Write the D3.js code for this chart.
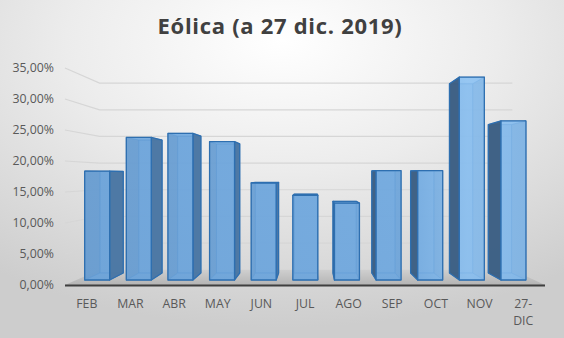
<!DOCTYPE html>
<html>
<head>
<meta charset="utf-8">
<script src="https://cdn.jsdelivr.net/npm/d3@7"></script>
<style>
  html, body { margin: 0; padding: 0; background: #fff; }
  svg { display: block; }
</style>
</head>
<body>
<svg id="chart" width="564" height="338"></svg>
<script>
// Monthly wind share, 2019
const categories = ["FEB", "MAR", "ABR", "MAY", "JUN", "JUL", "AGO", "SEP", "OCT", "NOV", "27-DIC"];
const values = [0.184, 0.241, 0.248, 0.234, 0.164, 0.143, 0.130, 0.185, 0.185, 0.343, 0.269];
const tickValues = [0, 0.05, 0.10, 0.15, 0.20, 0.25, 0.30, 0.35];
const title = "Eólica (a 27 dic. 2019)";

const W = 564, H = 338;
const FONT = "'Open Sans', Lato, sans-serif";
const svg = d3.select("#chart");
const defs = svg.append("defs");

const esLocale = d3.formatLocale({ decimal: ",", thousands: ".", grouping: [3], currency: ["", " €"] });
const pct = esLocale.format(".2%");

// Chart area background
const bg = defs.append("radialGradient").attr("id", "bg")
  .attr("cx", "50%").attr("cy", "12%").attr("r", "85%")
  .attr("gradientUnits", "objectBoundingBox");
bg.append("stop").attr("offset", "0%").attr("stop-color", "#ffffff");
bg.append("stop").attr("offset", "45%").attr("stop-color", "#ececec");
bg.append("stop").attr("offset", "100%").attr("stop-color", "#cdcdcd");
svg.append("rect").attr("width", W).attr("height", H).attr("fill", "url(#bg)");

// Front-plane scales (x along the floor front edge, y up the front-left edge)
const x = d3.scaleBand().domain(categories).range([65, 545]).paddingInner(0.4).paddingOuter(0.2);
const y = d3.scaleLinear().domain([0, 0.35]).range([285, 68]);

// Perspective: depth factor s shrinks coordinates toward the vanishing point
const VX = 312, VY = 176;
const SF = 1, SB = 0.86;           // floor front / back
const BF = 0.954, BB = 0.89;       // bar front / back faces
const P = (xw, yw, s) => [VX + (xw - VX) * s, VY + (yw - VY) * s];
const line = d3.line();

// Floor
const floorGrad = defs.append("linearGradient").attr("id", "floor")
  .attr("x1", 0).attr("y1", 0).attr("x2", 0).attr("y2", 1);
floorGrad.append("stop").attr("offset", "0%").attr("stop-color", "#cfcfcf");
floorGrad.append("stop").attr("offset", "100%").attr("stop-color", "#b4b4b4");
const [x0, x1] = x.range();
svg.append("path")
  .attr("d", line([P(x0, y(0), SF), P(x1, y(0), SF), P(x1, y(0), SB), P(x0, y(0), SB)]) + "Z")
  .attr("fill", "url(#floor)");
svg.append("line")
  .attr("x1", x0).attr("x2", x1).attr("y1", y(0) + 0.5).attr("y2", y(0) + 0.5)
  .attr("stroke", "#3f3f3f").attr("stroke-width", 2.2);

// Gridlines: side wall diagonal then back wall
svg.append("g").selectAll("path")
  .data(tickValues.filter(d => d > 0))
  .join("path")
  .attr("d", d => line([P(x0, y(d), SF), P(x0, y(d), SB), P(x1, y(d), SB)]))
  .attr("fill", "none")
  .attr("stroke", "#d6d6d6")
  .attr("stroke-width", 1.2);

// Bar colours
const frontGrad = defs.append("linearGradient").attr("id", "front")
  .attr("gradientUnits", "userSpaceOnUse")
  .attr("x1", 60).attr("y1", 0).attr("x2", 545).attr("y2", 0);
[["0%", "#69a2da"], ["72%", "#71aae1"], ["84%", "#8ec3f3"], ["100%", "#80b7ea"]]
  .forEach(([o, c]) => frontGrad.append("stop").attr("offset", o).attr("stop-color", c));

const EDGE = "#2e6fb0";

const bars = svg.append("g");
categories.forEach((cat, i) => {
  const v = values[i];
  const xl = x(cat), xr = x(cat) + x.bandwidth();
  const yb = y(0), yt = y(v);
  const c = {
    flb: P(xl, yb, BF), frb: P(xr, yb, BF), frt: P(xr, yt, BF), flt: P(xl, yt, BF),
    blb: P(xl, yb, BB), brb: P(xr, yb, BB), brt: P(xr, yt, BB), blt: P(xl, yt, BB)
  };
  const faces = {
    back:   { pts: [c.blb, c.brb, c.brt, c.blt], fill: "#5f97cf" },
    left:   { pts: [c.flb, c.blb, c.blt, c.flt], fill: "#3d5f83" },
    right:  { pts: [c.frb, c.brb, c.brt, c.frt], fill: "#4b77a3" },
    top:    { pts: [c.flt, c.frt, c.brt, c.blt], fill: "#9ccaf2" },
    bottom: { pts: [c.flb, c.frb, c.brb, c.blb], fill: "#5f97cf" },
    front:  { pts: [c.flb, c.frb, c.frt, c.flt], fill: "url(#front)" }
  };
  const leftVisible = xl > VX, rightVisible = xr < VX, topVisible = yt > VY;
  const hidden = [], shown = [];
  (leftVisible ? shown : hidden).push("left");
  (rightVisible ? shown : hidden).push("right");
  (topVisible ? shown : hidden).push("top");
  hidden.push("bottom");
  const order = ["back", ...hidden, ...shown, "front"];
  const g = bars.append("g");
  order.forEach(name => {
    const f = faces[name];
    const isShown = shown.includes(name);
    g.append("path")
      .attr("d", line(f.pts) + "Z")
      .attr("fill", f.fill)
      .attr("fill-opacity", name === "front" ? 0.82 : isShown ? 0.97 : 0.6)
      .attr("stroke", EDGE)
      .attr("stroke-opacity", name === "front" || isShown ? 1 : 0.55)
      .attr("stroke-width", name === "front" || isShown ? 1.3 : 0.9)
      .attr("stroke-linejoin", "round");
  });
});

// Value axis labels along the front-left edge
const yAxis = svg.append("g")
  .attr("transform", `translate(54,0)`)
  .call(d3.axisLeft(y).tickValues(tickValues).tickFormat(pct).tickSize(0).tickPadding(0));
yAxis.select(".domain").remove();
yAxis.selectAll("text")
  .attr("font-family", FONT)
  .attr("font-size", 12.3)
  .attr("fill", "#595959");

// Category labels
const xl = svg.append("g")
  .attr("font-family", FONT)
  .attr("font-size", 12.3)
  .attr("fill", "#595959")
  .attr("text-anchor", "middle");
categories.forEach(cat => {
  const parts = cat.includes("-") ? [cat.slice(0, cat.indexOf("-") + 1), cat.slice(cat.indexOf("-") + 1)] : [cat];
  const t = xl.append("text")
    .attr("x", x(cat) + x.bandwidth() / 2)
    .attr("y", 308);
  parts.forEach((p, k) => t.append("tspan")
    .attr("x", x(cat) + x.bandwidth() / 2)
    .attr("dy", k === 0 ? 0 : 17)
    .text(p));
});

// Title
svg.append("text")
  .attr("x", 280).attr("y", 34)
  .attr("text-anchor", "middle")
  .attr("font-family", FONT)
  .attr("font-weight", "bold")
  .attr("font-size", 22)
  .attr("letter-spacing", 0.7)
  .attr("fill", "#404040")
  .text(title);
</script>
</body>
</html>
